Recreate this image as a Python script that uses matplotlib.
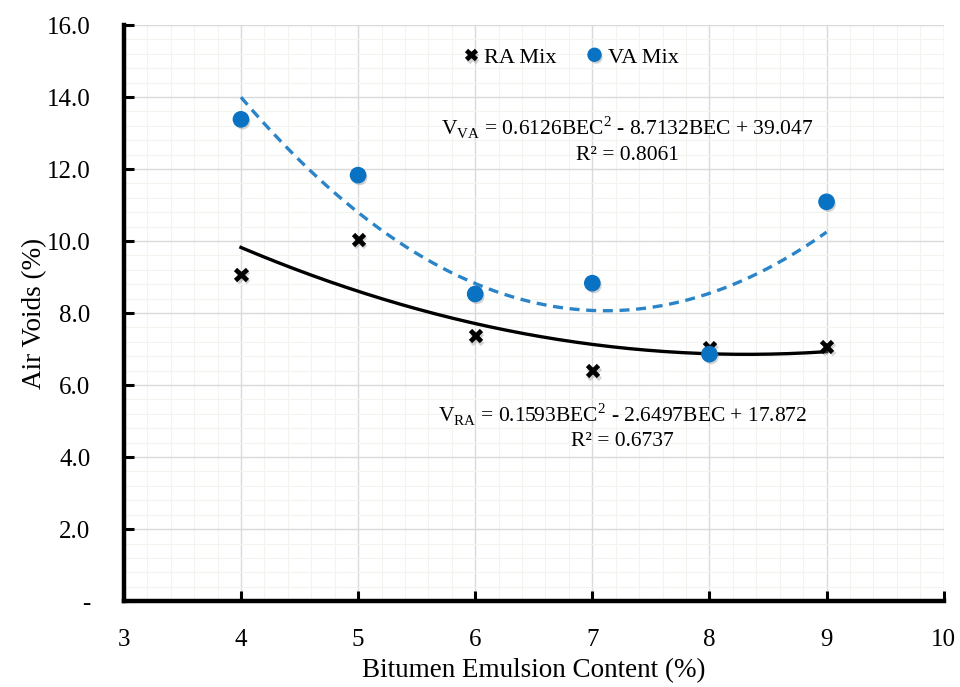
import numpy as np
import matplotlib.pyplot as plt
import matplotlib.patheffects as pe
from matplotlib.ticker import MultipleLocator, FixedLocator

plt.rcParams['font.family'] = ['Liberation Serif', 'DejaVu Serif']
plt.rcParams['mathtext.fontset'] = 'custom'
plt.rcParams['mathtext.rm'] = 'Liberation Serif'

# data
bec = [4, 5, 6, 7, 8, 9]
ra_mix = [9.08, 10.05, 7.37, 6.40, 7.03, 7.08]
va_mix = [13.38, 11.83, 8.53, 8.83, 6.86, 11.09]

# trendline coefficients as printed on the chart
ra_coef = [0.1593, -2.6497, 17.872]
va_coef = [0.6126, -8.7132, 39.047]

x_ticks = [3, 4, 5, 6, 7, 8, 9, 10]
y_ticks = [0, 2, 4, 6, 8, 10, 12, 14, 16]
y_labels = ['-', '2.0', '4.0', '6.0', '8.0', '10.0', '12.0', '14.0', '16.0']

fig = plt.figure(figsize=(9.6, 6.87), dpi=100)
ax = fig.add_axes([0.129, 0.125, 0.854, 0.8386])

xs = np.linspace(min(bec), max(bec), 200)
ax.plot(xs, np.polyval(va_coef, xs), color='#2B84C8', lw=2.4, ls=(0, (3, 2)), zorder=3)
ax.plot(xs, np.polyval(ra_coef, xs), color='black', lw=2.4, zorder=3)

shadow = [pe.SimpleLineShadow(offset=(1.2, -1.8), shadow_color='gray', alpha=0.35), pe.Normal()]
ax.plot(bec, ra_mix, ls='none', marker='x', ms=8, mew=3.4, color='black',
        label='RA Mix', zorder=4, path_effects=shadow)
ax.plot(bec, va_mix, ls='none', marker='o', ms=11, color='#0A72C2',
        label='VA Mix', zorder=5,
        path_effects=[pe.SimplePatchShadow(offset=(1.2, -1.8), shadow_rgbFace='gray', alpha=0.35), pe.Normal()])

ax.set_xlim(3, 10)
ax.set_ylim(0, 16)
ax.xaxis.set_major_locator(FixedLocator(x_ticks))
ax.yaxis.set_major_locator(FixedLocator(y_ticks))
ax.set_yticklabels(y_labels)
ax.xaxis.set_minor_locator(MultipleLocator(0.2))
ax.yaxis.set_minor_locator(MultipleLocator(0.4))

ax.grid(which='major', color='#dadada', lw=1.0, zorder=0)
ax.grid(which='minor', color='#f0f6ee', lw=0.8, zorder=0)
ax.set_axisbelow(True)

for s in ['top', 'right']:
    ax.spines[s].set_visible(False)
for s in ['left', 'bottom']:
    ax.spines[s].set_linewidth(3.2)
ax.tick_params(which='major', direction='in', length=7, width=2.2, labelsize=18)
ax.tick_params(axis='y', pad=24)
ax.tick_params(axis='x', pad=20)
ax.tick_params(which='minor', length=0)

ax.set_xlabel('Bitumen Emulsion Content (%)', fontsize=19.5, labelpad=5)
ax.set_ylabel('Air Voids (%)', fontsize=19.5, labelpad=0)

ax.legend(loc='center', bbox_to_anchor=(0.546, 0.944), ncol=2, frameon=False,
          fontsize=16, handlelength=0.6, handletextpad=0.3, columnspacing=1.4, markerscale=0.85)

ax.text(0.614, 0.822, r'V$_{\mathregular{VA}}$ = 0.6126BEC$^{\mathregular{2}}$ - 8.7132BEC + 39.047',
        transform=ax.transAxes, ha='center', va='center', fontsize=15.5)
ax.text(0.614, 0.774, 'R² = 0.8061', transform=ax.transAxes, ha='center', va='center', fontsize=15.5)
ax.text(0.608, 0.324, r'V$_{\mathregular{RA}}$ = 0.1593BEC$^{\mathregular{2}}$ - 2.6497BEC + 17.872',
        transform=ax.transAxes, ha='center', va='center', fontsize=15.5)
ax.text(0.608, 0.277, 'R² = 0.6737', transform=ax.transAxes, ha='center', va='center', fontsize=15.5)

fig.savefig('out.png', dpi=100)
